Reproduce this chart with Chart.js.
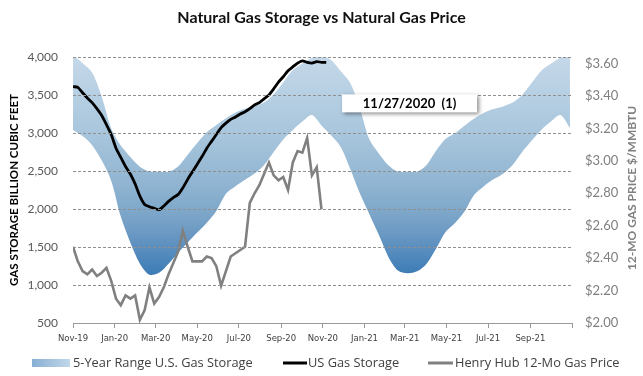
<!DOCTYPE html>
<html><head><meta charset="utf-8">
<script src="https://cdn.jsdelivr.net/npm/chart.js@4.4.1/dist/chart.umd.min.js"></script>
<style>html,body{margin:0;padding:0;background:#fff;} canvas{display:block;}</style>
</head><body>
<canvas id="c" width="643" height="376"></canvas>
<script>
const titleText = 'Natural Gas Storage vs Natural Gas Price';
const leftAxisTitle = 'GAS STORAGE BILLION CUBIC FEET';
const rightAxisTitle = '12-MO GAS PRICE $/MMBTU';
const annotationText = '11/27/2020  (1)';
const seriesLabels = ['5-Year Range U.S. Gas Storage', 'US Gas Storage', 'Henry Hub 12-Mo Gas Price'];

// x axis in days since 1 Nov 2019
const xTickDays = [0, 61, 121, 182, 243, 305, 366, 427, 486, 547, 608, 670, 731];
const xTickLabels = ['Nov-19','Jan-20','Mar-20','May-20','Jul-20','Sep-20','Nov-20','Jan-21','Mar-21','May-21','Jul-21','Sep-21',''];
const storageTicks = [500, 1000, 1500, 2000, 2500, 3000, 3500, 4000];
const priceTicks = [2.0, 2.2, 2.4, 2.6, 2.8, 3.0, 3.2, 3.4, 3.6];

// weekly series starting day 0
const weekStep = 7;
const storageValues = [3610,3600,3530,3460,3400,3320,3230,3110,2980,2800,2680,2560,2460,2330,2170,2060,2030,2010,1990,2040,2100,2150,2190,2280,2390,2490,2590,2690,2800,2890,2980,3070,3130,3180,3210,3250,3280,3320,3370,3400,3450,3500,3580,3670,3740,3820,3870,3920,3950,3930,3920,3940,3930,3930];
const priceValues = [2.47,2.38,2.32,2.30,2.33,2.29,2.31,2.34,2.26,2.15,2.11,2.17,2.15,2.17,2.02,2.08,2.22,2.12,2.16,2.22,2.30,2.37,2.44,2.57,2.47,2.38,2.38,2.38,2.41,2.40,2.35,2.23,2.32,2.41,2.43,2.45,2.47,2.74,2.80,2.85,2.92,2.99,2.91,2.88,2.90,2.82,2.99,3.06,3.05,3.14,2.91,2.96,2.70];

// 5-year range, every 14 days from day 0
const bandStep = 14;
const rangeMax = [4026,3920,3795,3480,3060,2835,2685,2557,2495,2490,2490,2560,2715,2870,3010,3105,3195,3270,3320,3355,3400,3510,3665,3829,3915,3990,4015,3960,3815,3660,3330,2920,2730,2575,2491,2491,2491,2580,2770,2925,3000,3100,3190,3265,3315,3350,3400,3500,3660,3820,3910,3990,4030];
const rangeMin = [3039,2960,2840,2640,2370,1900,1560,1280,1135,1160,1280,1425,1560,1690,1820,1975,2200,2300,2385,2467,2580,2750,2914,3039,3150,3237,3100,2970,2820,2530,2210,1935,1660,1370,1190,1154,1180,1280,1480,1700,1820,1975,2190,2300,2390,2465,2580,2750,2900,3040,3150,3237,3066];

const annotationDay = 493;
const annotationValue = 3390;

const toXY = (vals, step) => vals.map((v, i) => ({x: i * step, y: v}));

function bandGradient(context) {
  const chart = context.chart;
  const a = chart.chartArea;
  if (!a) return '#91b5d1';
  const g = chart.ctx.createLinearGradient(0, a.top, 0, a.bottom);
  g.addColorStop(0, '#c4d8e8');
  g.addColorStop(0.3, '#a7c5dc');
  g.addColorStop(0.5, '#8db2d0');
  g.addColorStop(0.62, '#76a1c6');
  g.addColorStop(0.72, '#5a8ebf');
  g.addColorStop(0.82, '#3b7bb5');
  g.addColorStop(0.92, '#2a6da8');
  g.addColorStop(1, '#1f5e98');
  return g;
}

const decor = {
  id: 'decor',
  afterDraw(chart) {
    const {ctx, scales} = chart;
    // annotation box
    const cx = scales.x.getPixelForValue(annotationDay);
    const cy = scales.y.getPixelForValue(annotationValue);
    const w = 135, h = 18;
    ctx.save();
    ctx.shadowColor = 'rgba(0,0,0,0.45)';
    ctx.shadowBlur = 4; ctx.shadowOffsetX = 2; ctx.shadowOffsetY = 2;
    ctx.fillStyle = '#fff';
    ctx.fillRect(cx - w / 2, cy - h / 2, w, h);
    ctx.restore();
    ctx.save();
    ctx.font = 'bold 13px Lato';
    ctx.fillStyle = '#000';
    ctx.textAlign = 'center'; ctx.textBaseline = 'middle';
    ctx.fillText(annotationText, cx, cy + 0.5);
    ctx.restore();

    // title
    ctx.save();
    ctx.font = 'bold 16px Lato';
    ctx.fillStyle = '#111';
    ctx.textAlign = 'center'; ctx.textBaseline = 'middle';
    ctx.fillText(titleText, 321.5, 18);
    ctx.restore();

    // axis titles
    ctx.save();
    ctx.translate(14, 190); ctx.rotate(-Math.PI / 2);
    ctx.font = 'bold 11.5px Lato'; ctx.fillStyle = '#000';
    ctx.textAlign = 'center'; ctx.textBaseline = 'middle';
    ctx.fillText(leftAxisTitle, 0, 0);
    ctx.restore();
    ctx.save();
    ctx.translate(632, 188); ctx.rotate(-Math.PI / 2);
    ctx.font = 'bold 12px Lato'; ctx.fillStyle = '#7f7f7f';
    ctx.textAlign = 'center'; ctx.textBaseline = 'middle';
    ctx.fillText(rightAxisTitle, 0, 0);
    ctx.restore();

    // legend
    const ly = 363;
    const ds = chart.data.datasets;
    ctx.save();
    const lg = ctx.createLinearGradient(32, 0, 70, 0);
    lg.addColorStop(0, '#86afd3'); lg.addColorStop(1, '#c2d7e9');
    ctx.fillStyle = lg;
    ctx.fillRect(32, ly - 4, 38, 8);
    ctx.font = '12.8px "Open Sans"'; ctx.fillStyle = '#404040';
    ctx.textAlign = 'left'; ctx.textBaseline = 'middle';
    ctx.fillText(ds[3].label, 73, ly);
    ctx.lineWidth = 3; ctx.strokeStyle = ds[0].borderColor;
    ctx.beginPath(); ctx.moveTo(283, ly); ctx.lineTo(307, ly); ctx.stroke();
    ctx.fillText(ds[0].label, 308, ly);
    ctx.strokeStyle = ds[1].borderColor;
    ctx.beginPath(); ctx.moveTo(428, ly); ctx.lineTo(453, ly); ctx.stroke();
    ctx.fillText(ds[1].label, 455, ly);
    ctx.restore();
  }
};

new Chart(document.getElementById('c'), {
  type: 'line',
  data: {
    datasets: [
      {label: seriesLabels[1], data: toXY(storageValues, weekStep), yAxisID: 'y', borderColor: '#000000', borderWidth: 2.8, pointRadius: 0, tension: 0.2, fill: false},
      {label: seriesLabels[2], data: toXY(priceValues, weekStep), yAxisID: 'y1', borderColor: '#808080', borderWidth: 2.6, pointRadius: 0, tension: 0, fill: false},
      {label: '5-Year Min', data: toXY(rangeMin, bandStep), yAxisID: 'y', borderColor: 'rgba(0,0,0,0)', borderWidth: 0, pointRadius: 0, tension: 0.3, fill: false},
      {label: seriesLabels[0], data: toXY(rangeMax, bandStep), yAxisID: 'y', borderColor: 'rgba(0,0,0,0)', borderWidth: 0, pointRadius: 0, tension: 0.3, fill: '-1', backgroundColor: bandGradient}
    ]
  },
  options: {
    responsive: false, animation: false, events: [],
    layout: {padding: {top: 57, bottom: 33, left: 0, right: 0}},
    plugins: {legend: {display: false}, tooltip: {enabled: false}, title: {display: false}},
    scales: {
      x: {
        type: 'linear', min: 0, max: 731,
        afterBuildTicks: s => { s.ticks = xTickDays.map(v => ({value: v})); },
        afterFit: s => { s.height = 20; },
        ticks: {autoSkip: false, maxRotation: 0, minRotation: 0, padding: 6, color: '#404040', font: {family: 'DejaVu Sans', size: 8.5},
          callback: (v, i) => xTickLabels[i]},
        grid: {drawOnChartArea: false, drawTicks: true, tickLength: 5, tickColor: '#999999', tickWidth: 1},
        border: {display: true, color: '#999999', width: 1}
      },
      y: {
        position: 'left', min: 500, max: 4000,
        afterBuildTicks: s => { s.ticks = storageTicks.map(v => ({value: v})); },
        afterFit: s => { s.width = 73; },
        ticks: {padding: 15, color: '#595959', font: {family: 'Lato', size: 12}, callback: v => v.toLocaleString('en-US')},
        grid: {drawTicks: false, z: 1, lineWidth: 1, color: c => (c.tick && c.tick.value === 500) ? 'rgba(0,0,0,0)' : '#8f8f8f'},
        border: {display: false, dash: [3, 2]}
      },
      y1: {
        position: 'right', min: 2.0, max: 3.64,
        afterBuildTicks: s => { s.ticks = priceTicks.map(v => ({value: v})); },
        afterFit: s => { s.width = 71; },
        ticks: {padding: 13, color: '#7f7f7f', font: {family: 'Lato', size: 13}, callback: v => '$' + Number(v).toFixed(2)},
        grid: {drawOnChartArea: false, drawTicks: false},
        border: {display: false}
      }
    }
  },
  plugins: [decor]
});
</script>
</body></html>
